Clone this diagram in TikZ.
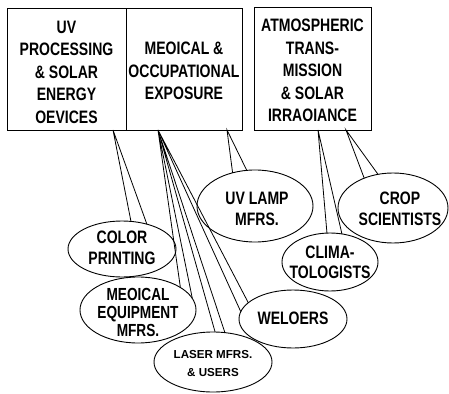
\documentclass[tikz,border=0pt]{standalone}
\usepackage{fontspec}
\setmainfont{Liberation Sans}
\usetikzlibrary{shapes.geometric}
\begin{document}
\begin{tikzpicture}[x=1pt,y=-1pt,
  box/.style={draw,line width=1pt,inner sep=0pt,outer sep=0pt},
  oval/.style={draw,ellipse,line width=0.9pt,inner sep=0pt,outer sep=0pt},
  tbase/.style={align=center,inner sep=0pt,xscale=0.78,transform shape},
  txt/.style={tbase,font=\fontsize{18}{22.5}\selectfont\bfseries},
  otxt/.style={tbase,font=\fontsize{18}{21}\selectfont\bfseries},
  link/.style={line width=0.8pt}]
\useasboundingbox (0,0) rectangle (449,393);

% boxes
\node[box,minimum width=119pt,minimum height=121pt] (uvb) at (66.5,69.5) {};
\node[box,minimum width=116pt,minimum height=121pt] (medb) at (184,69.5) {};
\node[box,minimum width=117pt,minimum height=122pt] (atmb) at (312.5,69) {};
\node[txt] (tuvb) at (66.5,72) {UV\\PROCESSING\\\& SOLAR\\ENERGY\\OEVICES};
\node[txt] (tmedb) at (184,71) {MEOICAL \&\\OCCUPATIONAL\\EXPOSURE};
\node[txt] (tatmb) at (312.5,70.5) {ATMOSPHERIC\\TRANS-\\MISSION\\\& SOLAR\\IRRAOIANCE};

% ellipses
\node[oval,minimum width=108pt,minimum height=56pt] (col) at (122,249) {};
\node[oval,minimum width=116pt,minimum height=66pt] (meq) at (138,310) {};
\node[oval,minimum width=118pt,minimum height=60pt] (las) at (213,362) {};
\node[oval,minimum width=108pt,minimum height=58pt] (wel) at (293,319) {};
\node[oval,minimum width=96pt,minimum height=58pt] (cli) at (330,262) {};
\node[oval,minimum width=110pt,minimum height=70pt] (crop) at (393,208) {};
\node[oval,minimum width=116pt,minimum height=72pt] (lamp) at (255,206) {};

\node[otxt] (tcol) at (122,248) {COLOR\\PRINTING};
\node[tbase,font=\fontsize{17.5}{18}\selectfont\bfseries] (tmeq) at (138,312) {MEOICAL\\EQUIPMENT\\MFRS.};
\node[align=center,inner sep=0pt,font=\fontsize{11.6}{18}\selectfont\bfseries] (tlas) at (213,364) {LASER MFRS.\\\& USERS};
\node[otxt] (twel) at (293,318) {WELOERS};
\node[tbase,font=\fontsize{18}{20}\selectfont\bfseries] (tcli) at (330,262) {CLIMA-\\TOLOGISTS};
\node[otxt] (tcrop) at (400,209) {CROP\\SCIENTISTS};
\node[otxt] (tlamp) at (257,209) {UV LAMP\\MFRS.};

% apex points on box bottoms
\coordinate (a1) at ([xshift=106pt]uvb.south west);
\coordinate (a2) at ([xshift=32pt]medb.south west);
\coordinate (a3) at ([xshift=101pt]medb.south west);
\coordinate (a4) at ([xshift=64pt]atmb.south west);
\coordinate (a5) at ([xshift=92pt]atmb.south west);

% wedges
\draw[link] (col.72) -- (a1) -- (col.45);
\draw[link] (meq.28) -- (a2) -- (meq.12);
\draw[link] (las.86) -- (a2) -- (las.68);
\draw[link] (wel.172) -- (a2) -- (wel.160);
\draw[link] (lamp.124) -- (a3) -- (lamp.103);
\draw[link] (cli.96) -- (a4) -- (cli.67);
\draw[link] (crop.134) -- (a5) -- (crop.114);
\end{tikzpicture}
\end{document}
